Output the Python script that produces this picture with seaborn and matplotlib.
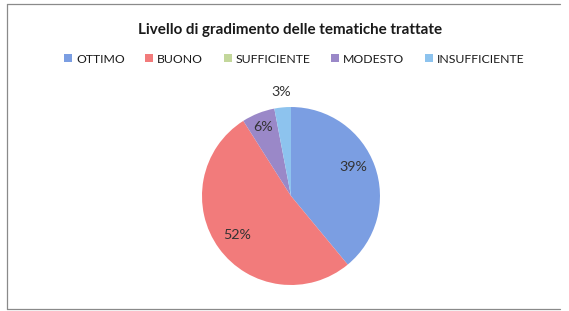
import numpy as np
import matplotlib
matplotlib.use("Agg")
import matplotlib.pyplot as plt
import seaborn as sns
from matplotlib.patches import Patch
from matplotlib.lines import Line2D

categories = ["OTTIMO", "BUONO", "SUFFICIENTE", "MODESTO", "INSUFFICIENTE"]
shares = [39, 52, 0, 6, 3]
colors = ["#7b9ee2", "#f27b7b", "#c3d79b", "#9a88c8", "#8dc3ee"]
title = "Livello di gradimento delle tematiche trattate"

sns.set_theme(style="white")
plt.rcParams["font.family"] = ["Lato", "DejaVu Sans"]

fig = plt.figure(figsize=(5.69, 3.11), dpi=100)
fig.patch.set_facecolor("white")

# outer frame (left, top, bottom only, like the scan)
for xs, ys in [([0.0123, 0.0123], [0.006, 0.987]),
               ([0.0123, 0.985], [0.987, 0.987]),
               ([0.0123, 0.985], [0.006, 0.006])]:
    fig.add_artist(Line2D(xs, ys, transform=fig.transFigure, color="#8a8a8a", lw=0.9))

fig.text(0.51, 0.903, title, ha="center", va="center", fontsize=10.9,
         fontweight="bold", color="#1a1a1a")

ax = fig.add_axes([0.355, 0.0836, 0.3128, 0.5723])
wedges, _ = ax.pie(shares, colors=colors, startangle=90, counterclock=False,
                   wedgeprops=dict(linewidth=0))
ax.set_xlim(-1, 1)
ax.set_ylim(-1, 1)
ax.set_aspect("equal")

# percentage labels placed along each wedge's mid angle
label_radius = [0.77, 0.75, 0.75, 0.84, 1.17]
for w, v, r in zip(wedges, shares, label_radius):
    if v == 0:
        continue
    ang = np.deg2rad((w.theta1 + w.theta2) / 2 + (5 if v == 39 else 0))
    ax.text(r * np.cos(ang), r * np.sin(ang), f"{v}%", ha="center", va="center",
            fontsize=10.3, color="#333333", clip_on=False)

handles = [Patch(facecolor=c, edgecolor="none") for c in colors]
fig.legend(handles, categories, loc="center", bbox_to_anchor=(0.517, 0.81), ncol=5,
           frameon=False, fontsize=8.8, handlelength=0.65, handleheight=0.65,
           handletextpad=0.3, columnspacing=1.7, labelcolor="#1a1a1a")

fig.savefig("out.png", dpi=100)
